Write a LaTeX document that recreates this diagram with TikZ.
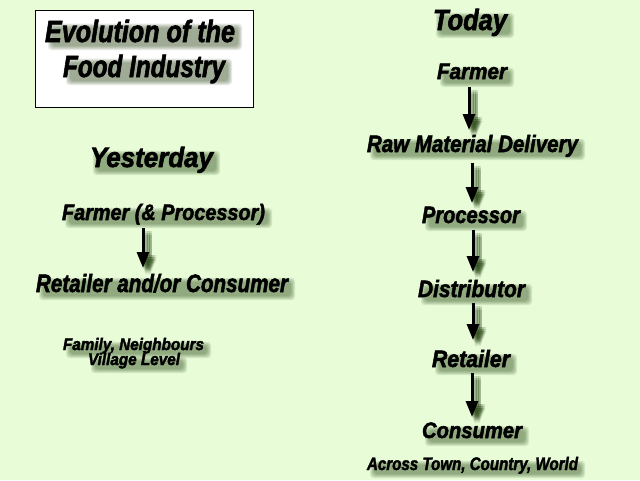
\documentclass[tikz,border=0pt]{standalone}
\usepackage{fontspec}
\setmainfont{Liberation Sans}[BoldItalicFeatures={FakeBold=2.2}]
\usetikzlibrary{calc,arrows.meta}
\pgfdeclarelayer{bglayer}
\pgfdeclarelayer{shlayer}
\pgfsetlayers{bglayer,shlayer,main}
\definecolor{bg}{RGB}{232,252,216}
\definecolor{shgreen}{RGB}{40,70,20}
\tikzset{
 lbltext/.style={anchor=base west, inner sep=0pt, outer sep=0pt, text=black},
 arr/.style={line width=2.25pt, -{Triangle[width=9pt,length=12pt]}},
 arrshadow/.style={arr, draw=shgreen, fill=shgreen, opacity=0.14},
 blobstyle/.style={fill=shgreen, opacity=0.11, rounded corners=2.5pt},
 titlebox/.style={draw=black, fill=white, line width=1.1pt, inner sep=0pt, anchor=north west, minimum width=163.5pt, minimum height=72.75pt}
}
\newcommand\fittext[3]{%
 \pgfmathsetmacro\myfs{#1*0.75/0.716}%
 \fontsize{\myfs pt}{\myfs pt}\selectfont\bfseries\itshape
 \resizebox{\dimexpr #2pt*3/4\relax}{\height}{#3}}
\newcommand\shlabel[6]{%
 \node[lbltext] (#1) at (#2,#3) {\fittext{#4}{#5}{#6}};
 \begin{pgfonlayer}{shlayer}
 \foreach \i in {0,1,2,3,4}{
  \fill[blobstyle] ($(#1.north west)+(3+\i,4+\i)$) rectangle ($(#1.base east)+(7-\i,8-\i)$);}
 \end{pgfonlayer}
}
\newcommand\sharrow[5]{%
 \begin{pgfonlayer}{shlayer}
 \foreach \dx in {3,5,7}{\foreach \dy in {3,5,7}{
  \draw[arrshadow] ($(#1,0 |- #2.base)+(\dx,#3+\dy)$) -- ($(#1,0 |- #4.base)+(\dx,#5+\dy)$);}}
 \end{pgfonlayer}
 \draw[arr] ($(#1,0 |- #2.base)+(0,#3)$) -- ($(#1,0 |- #4.base)+(0,#5)$);
}
\begin{document}
\begin{tikzpicture}[x=0.75pt,y=-0.75pt]
\useasboundingbox (0,0) rectangle (640,480);
\begin{pgfonlayer}{bglayer}
\fill[bg] (0,0) rectangle (640,480);
\node[titlebox] (box) at (35,10) {};
\end{pgfonlayer}
\shlabel{ti1}{45}{42}{22}{190}{Evolution of the}
\shlabel{ti2}{63}{77}{22}{162}{Food Industry}
\shlabel{yest}{90}{167}{20}{123}{Yesterday}
\shlabel{yf}{62}{220}{16}{203}{Farmer (\& Processor)}
\shlabel{yr}{36}{292}{18}{252}{Retailer and/or Consumer}
\shlabel{fam}{63}{350}{12}{141}{Family, Neighbours}
\shlabel{vil}{88}{365}{12}{92}{Village Level}
\shlabel{today}{433}{30}{21}{74}{Today}
\shlabel{tf}{437}{79}{16}{70}{Farmer}
\shlabel{raw}{367}{152}{17}{211}{Raw Material Delivery}
\shlabel{proc}{422}{223}{17}{98}{Processor}
\shlabel{dist}{418}{297}{17}{107}{Distributor}
\shlabel{ret}{432}{367}{17}{78}{Retailer}
\shlabel{cons}{422}{438}{16}{100}{Consumer}
\shlabel{across}{367}{470}{13}{211}{Across Town, Country, World}
\sharrow{143}{yf}{8}{yr}{-24}
\sharrow{469}{tf}{8}{raw}{-22}
\sharrow{472}{raw}{11}{proc}{-20}
\sharrow{473}{proc}{7}{dist}{-25}
\sharrow{473}{dist}{6}{ret}{-27}
\sharrow{472}{ret}{6}{cons}{-21}
\end{tikzpicture}
\end{document}
